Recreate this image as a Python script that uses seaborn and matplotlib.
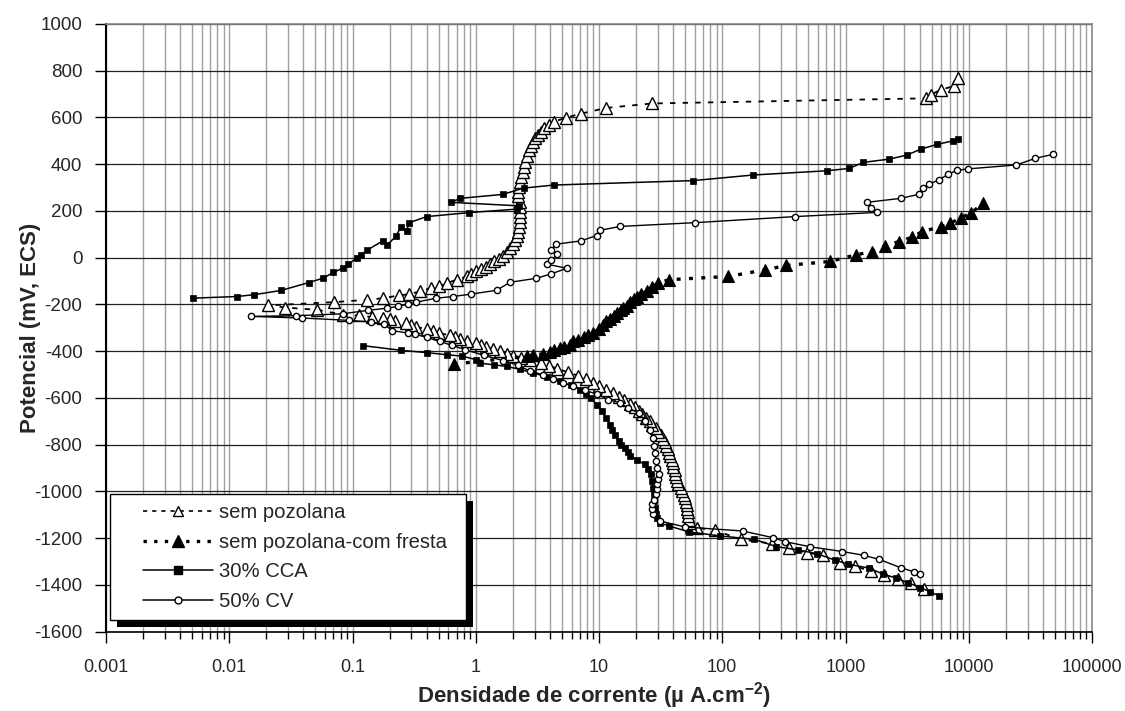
import matplotlib
matplotlib.use("Agg")
import numpy as np
import pandas as pd
import matplotlib.pyplot as plt
import seaborn as sns
from matplotlib.lines import Line2D
from matplotlib.patches import Rectangle
from matplotlib.legend_handler import HandlerLine2D
from matplotlib.ticker import LogLocator, FixedLocator, NullFormatter

# ---------------- data (current density uA/cm2, potential mV ECS) ----------------
sp_i = [4300, 3390, 2650, 2070, 1612, 1200, 902, 661, 483, 348, 252, 141, 87, 62,
        56, 55, 54, 53, 53, 52, 52, 51, 50, 49, 47, 46, 44, 43, 42, 41, 41, 40, 40, 39,
        38, 37, 36, 35, 34, 33, 32, 30, 29, 27, 26, 24, 22.5, 21, 19.5, 18, 16, 14.5, 13, 11.5,
        10, 9, 7.8, 6.8, 5.6, 4.6, 3.95, 3.4, 2.77, 2.35, 2.0, 1.8, 1.58, 1.38, 1.22, 1.1,
        1.0, 0.85, 0.74, 0.68, 0.62, 0.50, 0.45, 0.40, 0.33, 0.30, 0.27, 0.22, 0.20, 0.178,
        0.143, 0.113, 0.084, 0.052, 0.0285, 0.0205,
        0.0708, 0.131, 0.178, 0.24, 0.29, 0.35, 0.43, 0.50, 0.58, 0.70, 0.85, 0.92, 1.0, 1.1,
        1.2, 1.3, 1.4, 1.55, 1.67, 1.8, 1.91, 2.0, 2.1, 2.15, 2.2, 2.25, 2.3, 2.3, 2.3, 2.28,
        2.28, 2.22, 2.2, 2.25, 2.3, 2.35, 2.4, 2.45, 2.5, 2.6, 2.7, 2.8, 2.93, 3.05, 3.2, 3.4,
        3.6, 3.9, 4.3, 5.4, 7.2, 11.5, 27, 4500, 4900, 5900, 7600, 8200]
sp_E = [-1418, -1390, -1373, -1357, -1340, -1321, -1304, -1272, -1262, -1240, -1223, -1205, -1166, -1155,
        -1150, -1135, -1120, -1105, -1090, -1075, -1060, -1045, -1030, -1015, -1000, -985, -970, -955,
        -940, -925, -910, -895, -880, -865, -850, -835, -820, -805, -790, -775, -760, -745, -730, -715,
        -700, -685, -670, -655, -640, -625, -610, -595, -580, -565, -550, -535, -520, -505, -490, -475,
        -462, -450, -436, -429, -422, -411, -400, -391, -382, -373, -365, -355, -346, -339, -332, -322,
        -313, -304, -297, -288, -280, -270, -264, -258, -254, -247, -244, -223, -213, -204,
        -190, -180, -173, -161, -156, -144, -130, -123, -109, -94, -80, -68, -56, -47, -38, -27, -16, -4,
        9, 25, 41, 58, 76, 94, 112, 133, 155, 176, 197, 218, 240, 262, 283, 304, 325, 346, 368, 390,
        411, 436, 461, 479, 496, 511, 525, 540, 553, 568, 582, 599, 617, 641, 660, 682, 697, 718, 735, 768]

fr_i = [0.66, 2.6, 2.93, 3.5, 4.0, 4.3, 4.8, 5.2, 5.8, 6.2, 6.8, 7.5, 8.2, 9.0, 10, 10.8, 11.5, 12.3,
        13.2, 13.9, 15, 15.8, 16.9, 18, 19.2, 20.3, 22, 24.3, 27, 30, 37, 112, 222, 332, 748, 1206,
        1640, 2100, 2730, 3480, 4200, 5950, 7100, 8640, 10400, 13000]
fr_E = [-455, -422, -415, -412, -405, -393, -388, -380, -372, -358, -350, -340, -332, -322, -305, -288,
        -272, -262, -250, -237, -225, -215, -205, -190, -178, -166, -155, -144, -125, -109, -94, -80,
        -52, -33, -16, 12, 26, 52, 69, 88, 112, 133, 147, 172, 190, 233]

cca_cat_i = [5780, 4870, 4050, 3190, 2585, 2028, 1553, 1050, 822, 583, 412, 274, 182, 95, 54, 37, 31,
             29.5, 29, 28.5, 28.2, 27.8, 27.3, 26.8, 26.5, 25, 23.5, 20.5, 18, 17.2, 16.4, 15.2, 14.4,
             13.5, 12.8, 12.3, 11.4, 10.5, 9.6, 8.6, 7.8, 7.0, 5.9, 4.8, 3.8, 2.93, 2.3, 1.78, 1.4,
             1.08, 1.0, 0.78, 0.58, 0.40, 0.247, 0.121]
cca_cat_E = [-1447, -1430, -1411, -1390, -1371, -1354, -1328, -1311, -1294, -1266, -1250, -1236, -1205,
             -1190, -1173, -1148, -1134, -1115, -1098, -1070, -1041, -1012, -984, -955, -927, -905, -884,
             -866, -849, -830, -813, -800, -785, -760, -737, -714, -685, -657, -628, -600, -582, -564,
             -546, -529, -510, -493, -478, -465, -458, -451, -436, -421, -415, -406, -396, -376]
cca_an_i = [0.00504, 0.0115, 0.016, 0.0263, 0.0444, 0.0573, 0.070, 0.083, 0.092, 0.108, 0.117, 0.130,
            0.176, 0.191, 0.225, 0.247, 0.275, 0.289, 0.40, 0.88, 2.15, 2.25, 0.63, 0.745, 1.66, 2.45,
            4.3, 58, 179, 703, 1069, 1397, 2271, 3142, 4104, 5561, 7410, 8225]
cca_an_E = [-173, -166, -158, -140, -106, -88, -63, -45, -28, -2, 12, 31, 72, 55, 91, 133, 116, 150,
            176, 193, 208, 222, 237, 254, 271, 298, 311, 330, 354, 372, 382, 408, 422, 439, 465, 485,
            500, 507]

cv_i = [4000, 3600, 2800, 1860, 1400, 945, 520, 325, 260, 146, 50, 31, 27.3, 27, 27, 28, 29, 29.3, 29.5,
        30.2, 30.8, 29.5, 29, 28.5, 28, 27.3, 26, 23.5, 21.2, 17.1, 14.9, 11.9, 9.6, 7.7, 6.2, 5.1, 4.2,
        3.5, 2.77, 2.2, 1.67, 1.16, 0.82, 0.64, 0.51, 0.40, 0.32, 0.28, 0.21, 0.18, 0.14, 0.094, 0.039,
        0.0149, 0.035, 0.083, 0.134, 0.19, 0.235, 0.28, 0.33, 0.48, 0.65, 0.91, 1.48, 1.9, 3.1, 4.1, 5.5,
        3.8, 4.1, 4.6, 4.1, 4.5, 7.1, 9.6, 10.1, 14.9, 60, 389, 1805, 1620, 1490, 2800, 3920, 4250, 4800,
        5730, 6800, 8000, 9800, 24400, 34500, 48000]
cv_E = [-1351, -1344, -1326, -1290, -1273, -1257, -1237, -1215, -1198, -1169, -1152, -1126, -1095, -1075,
        -1055, -1035, -1012, -990, -970, -948, -927, -899, -870, -835, -806, -771, -735, -700, -664, -643,
        -621, -607, -583, -568, -550, -536, -520, -500, -486, -460, -440, -418, -393, -375, -358, -341,
        -327, -322, -312, -284, -275, -268, -258, -251, -248, -240, -225, -216, -208, -199, -190, -173,
        -166, -156, -139, -105, -88, -69, -45, -28, -9, 15, 34, 58, 72, 95, 117, 134, 150, 176, 194, 211,
        237, 254, 271, 297, 316, 333, 357, 374, 380, 397, 425, 442]

legend_labels = ["sem pozolana", "sem pozolana-com fresta", "30% CCA", "50% CV"]
x_ticks = [0.001, 0.01, 0.1, 1, 10, 100, 1000, 10000, 100000]
x_tick_labels = ["0.001", "0.01", "0.1", "1", "10", "100", "1000", "10000", "100000"]
y_ticks = list(range(-1600, 1001, 200))

# ---------------- style ----------------
sns.set_style("white")
plt.rcParams["font.family"] = ["Liberation Sans", "DejaVu Sans"]
plt.rcParams["axes.unicode_minus"] = False
plt.rcParams["mathtext.fontset"] = "custom"
plt.rcParams["mathtext.rm"] = "Liberation Sans"
plt.rcParams["mathtext.bf"] = "Liberation Sans:bold"
plt.rcParams["mathtext.default"] = "bf"

fig = plt.figure(figsize=(11.25, 7.11), dpi=100)
ax = fig.add_axes([106 / 1125, 1 - 631.7 / 711, 986 / 1125, (631.7 - 24) / 711])


def draw(i, E, seg=None, **kw):
    df = pd.DataFrame({"i": i, "E": E, "seg": seg if seg is not None else [0] * len(i)})
    sns.lineplot(data=df, x="i", y="E", units="seg", estimator=None, sort=False,
                 color="black", legend=False, ax=ax, **kw)


st_sp = dict(linestyle=(0, (3, 4)), lw=1.3, marker="^", markersize=8.5,
             markerfacecolor="white", markeredgecolor="black", markeredgewidth=1.0)
st_fr = dict(linestyle=(0, (1.2, 2.5)), lw=2.4, marker="^", markersize=8.5,
             markerfacecolor="black", markeredgecolor="black", markeredgewidth=0.8)
st_cca = dict(linestyle="-", lw=1.1, marker="s", markersize=5,
              markerfacecolor="black", markeredgecolor="black", markeredgewidth=0.5)
st_cv = dict(linestyle="-", lw=1.0, marker="o", markersize=4.5,
             markerfacecolor="white", markeredgecolor="black", markeredgewidth=1.0)

draw(sp_i, sp_E, **st_sp)
draw(fr_i, fr_E, **st_fr)
draw(cca_cat_i + cca_an_i, cca_cat_E + cca_an_E,
     seg=[0] * len(cca_cat_i) + [1] * len(cca_an_i), **st_cca)
draw(cv_i, cv_E, **st_cv)

ax.set_xscale("log")
ax.set_xlim(0.001, 100000)
ax.set_ylim(-1600, 1000)
ax.xaxis.set_major_locator(FixedLocator(x_ticks))
ax.set_xticklabels(x_tick_labels)
ax.xaxis.set_minor_locator(LogLocator(base=10, subs=np.arange(2, 10), numticks=100))
ax.xaxis.set_minor_formatter(NullFormatter())
ax.set_yticks(y_ticks)
ax.set_yticklabels([str(v) for v in y_ticks])

ax.set_axisbelow(True)
ax.grid(which="both", axis="x", color="#a0a0a0", lw=1.0)
ax.grid(which="major", axis="y", color="#202020", lw=0.9)

for s in ["top", "right"]:
    ax.spines[s].set_color("#888888")
    ax.spines[s].set_linewidth(1.2)
ax.spines["left"].set_color("black")
ax.spines["left"].set_linewidth(1.5)
ax.spines["bottom"].set_color("black")
ax.spines["bottom"].set_linewidth(1.2)

ax.tick_params(axis="x", which="major", bottom=True, direction="out", length=8, width=1,
               color="black", pad=12, labelsize=13)
ax.tick_params(axis="x", which="minor", bottom=True, direction="out", length=5, width=1,
               color="black")
ax.tick_params(axis="y", which="major", left=True, direction="out", length=8, width=1,
               color="black", pad=9, labelsize=13.5)

ax.set_xlabel("Densidade de corrente (µ A.cm$^{-2}$)", fontsize=16, fontweight="bold")
ax.xaxis.set_label_coords(0.495, -0.079)
ax.set_ylabel("Potencial (mV, ECS)", fontsize=16, fontweight="bold")
ax.yaxis.set_label_coords(-0.066, 0.5)


class ShiftedHandler(HandlerLine2D):
    """Line handle drawn with an extra indent on its left side."""
    def __init__(self, shift, **kw):
        super().__init__(**kw)
        self.shift = shift

    def create_artists(self, legend, orig_handle, xdescent, ydescent, width, height, fontsize, trans):
        return super().create_artists(legend, orig_handle, xdescent - self.shift, ydescent,
                                      width - self.shift, height, fontsize, trans)


handles = [
    Line2D([], [], color="black", linestyle=(0, (2.5, 3)), lw=1.2, marker="^", markersize=7,
           markerfacecolor="white", markeredgecolor="black", markeredgewidth=1.0),
    Line2D([], [], color="black", linestyle=(0, (1, 2.2)), lw=2.4, marker="^", markersize=9,
           markerfacecolor="black", markeredgecolor="black"),
    Line2D([], [], color="black", linestyle="-", lw=1.1, marker="s", markersize=5.5,
           markerfacecolor="black", markeredgecolor="black"),
    Line2D([], [], color="black", linestyle="-", lw=1.1, marker="o", markersize=5,
           markerfacecolor="white", markeredgecolor="black", markeredgewidth=1.0),
]
fs_leg = 14.6
em = fs_leg * 100 / 72
leg = ax.legend(handles, legend_labels, loc="upper left",
                bbox_to_anchor=(0.004, 0.0, (466 - 110) / 986, 0.2266), mode="expand",
                borderaxespad=0, frameon=True, fancybox=False, edgecolor="black", framealpha=1,
                fontsize=fs_leg, handlelength=94 / em, handletextpad=6 / em, labelspacing=0.52,
                borderpad=0.45,
                handler_map={h: ShiftedHandler(17) for h in handles})
leg.get_frame().set_linewidth(1.0)
leg.set_zorder(10)

fig.canvas.draw()
bb = leg.get_window_extent()
inv = ax.transAxes.inverted()
(x0, y0), (x1, y1) = inv.transform([[bb.x0 + 7, bb.y0 - 7], [bb.x1 + 7, bb.y1 - 7]])
ax.add_patch(Rectangle((x0, y0), x1 - x0, y1 - y0, transform=ax.transAxes, facecolor="black",
                       edgecolor="none", zorder=9.9, clip_on=False))

fig.savefig("out.png", dpi=100)
